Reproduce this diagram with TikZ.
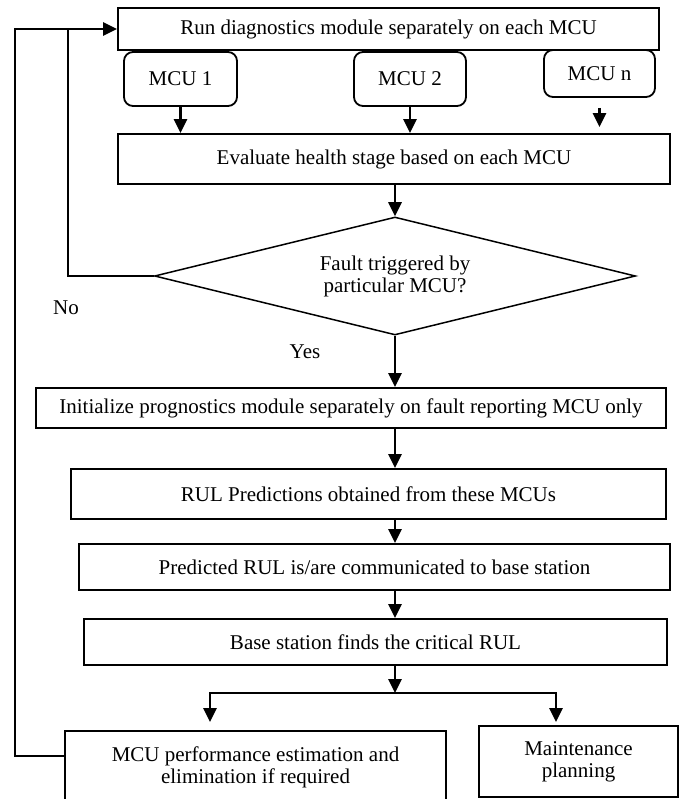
\documentclass[tikz,border=0pt]{standalone}
\usepackage{fontspec}
\setmainfont{Liberation Serif}
\usetikzlibrary{arrows.meta, shapes.geometric}

\begin{document}
\begin{tikzpicture}[x=1pt, y=-1pt, >={Triangle[length=14pt, width=13pt]},
  font=\fontsize{21}{22}\selectfont,
  stage/.style={draw, line width=1.8pt, inner sep=0pt, align=center},
  unit/.style={draw, line width=1.8pt, rounded corners=9pt, inner sep=0pt},
  flow/.style={->, line width=2.6pt},
  link/.style={line width=2.6pt}]
\useasboundingbox (0,0) rectangle (681,799);
\clip (0,0) rectangle (681,799);
% diagnostics on the units
\node[stage, minimum width=541pt, minimum height=42pt] (run) at (388.5,29) {Run diagnostics module separately on each MCU};
\node[unit, minimum width=113pt, minimum height=54pt] (mcu1) at (180.5,79) {MCU 1};
\node[unit, minimum width=112pt, minimum height=54pt] (mcu2) at (410,79) {MCU 2};
\node[unit, minimum width=111pt, minimum height=47pt] (mcun) at (599.5,73.5) {MCU n};
\node[stage, minimum width=552pt, minimum height=50pt] (eval) at (394,159) {Evaluate health stage based on each MCU};
\draw[flow] (mcu1.south) -- (mcu1.south |- eval.north);
\draw[flow] (mcu2.south) -- (mcu2.south |- eval.north);
\draw[flow] ([yshift=-10pt]mcun.south) -- ([yshift=6pt]mcun.south |- eval.north);
% decision
\node[draw, diamond, aspect=4, line width=1.5pt, inner sep=0pt, align=center,
  minimum width=481pt, minimum height=118pt] (fault) at (395,276) {Fault triggered by\\particular MCU?};
\draw[flow] (fault.north |- eval.south) -- (fault.north);
\node (no) at (66,308) {No};
\node (yes) at (305,352) {Yes};
% prognostics
\node[stage, minimum width=630pt, minimum height=40pt] (init) at (351,408) {Initialize prognostics module separately on fault reporting MCU only};
\node[stage, minimum width=595pt, minimum height=50pt] (rul) at (368.5,494) {RUL Predictions obtained from these MCUs};
\node[stage, minimum width=591pt, minimum height=46pt] (pred) at (374.5,567) {Predicted RUL is/are communicated to base station};
\node[stage, minimum width=583pt, minimum height=46pt] (base) at (375.5,642) {Base station finds the critical RUL};
\draw[flow] (fault.south) -- (fault.south |- init.north);
\draw[flow] (fault.south |- init.south) -- (fault.south |- rul.north);
\draw[flow] (fault.south |- rul.south) -- (fault.south |- pred.north);
\draw[flow] (fault.south |- pred.south) -- (fault.south |- base.north);
% outcomes
\node[stage, minimum width=381pt, minimum height=72pt] (perf) at (255.5,767) {MCU performance estimation and\\elimination if required};
\node[stage, minimum width=199pt, minimum height=71pt] (maint) at (578.5,761.5) {Maintenance\\planning};
\coordinate (split) at (395,693);
\coordinate (lefthead) at (210,722);
\coordinate (righthead) at (556,722);
\draw[flow] (fault.south |- base.south) -- (split);
\draw[flow] (split) -| (lefthead);
\draw[flow] (split) -| (righthead);
% feedback loops
\draw[link] (fault.west) -| ([xshift=-49pt]run.west);
\draw[flow] ([yshift=11pt]perf.west) -| ([xshift=-102pt]run.west) -- (run.west);
\end{tikzpicture}
\end{document}
